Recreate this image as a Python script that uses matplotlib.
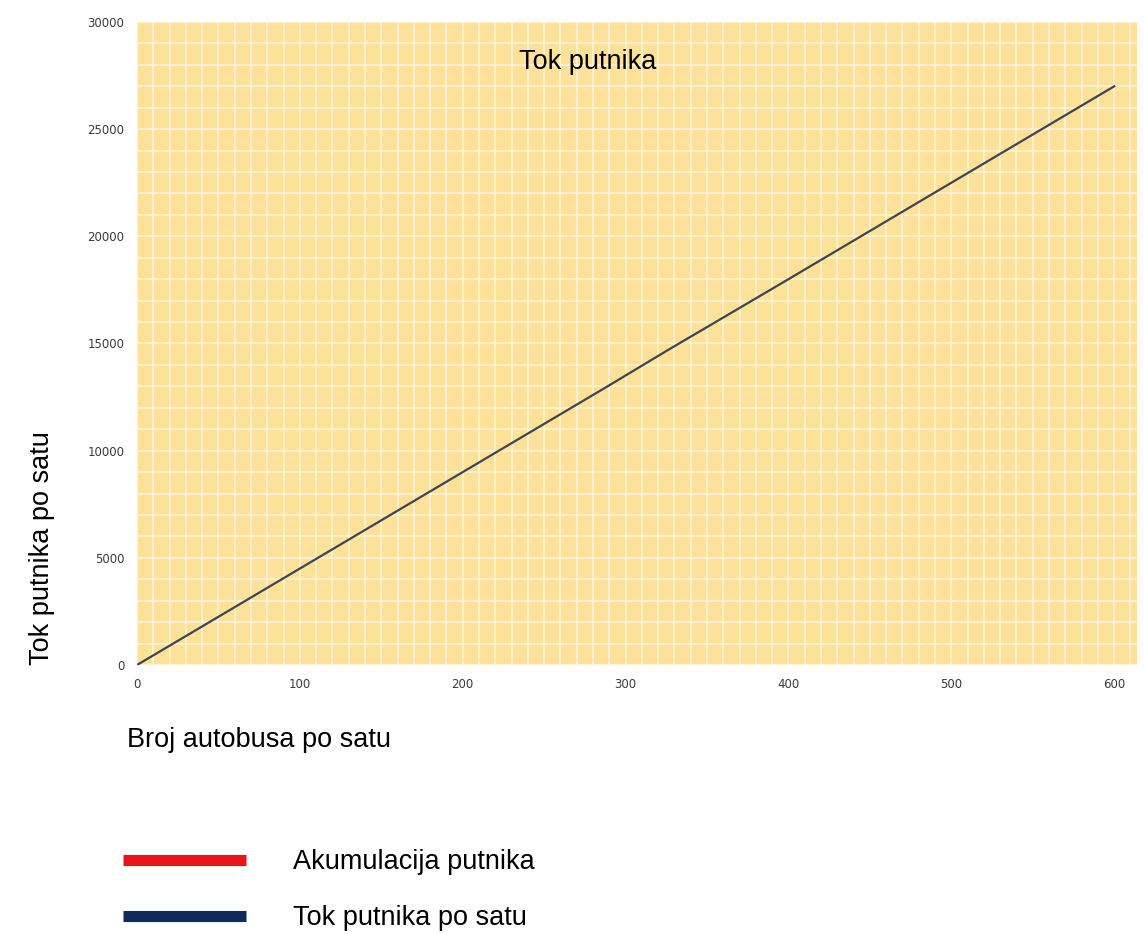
import matplotlib.pyplot as plt
from matplotlib.lines import Line2D
from matplotlib.ticker import MultipleLocator

# broj autobusa po satu -> tok putnika po satu
buses = [0, 100, 200, 290, 325, 400, 500, 600]
flow = [0, 4500, 9000, 13050, 14650, 18000, 22500, 27000]

x_ticks = [0, 100, 200, 300, 400, 500, 600]
y_ticks = [0, 5000, 10000, 15000, 20000, 25000, 30000]

legend_labels = ["Akumulacija putnika", "Tok putnika po satu"]
legend_colors = ["#e8141a", "#0f2a5c"]

plt.rcParams['font.family'] = ['Liberation Sans', 'DejaVu Sans']

fig = plt.figure(figsize=(11.45, 9.34), dpi=100)
ax = fig.add_axes([137/1145, 1 - 665/934, 1000/1145, 643/934])
ax.set_facecolor("#fde199")

ax.plot(buses, flow, color="#3d4550", lw=1.6)

ax.set_xlim(0, 614)
ax.set_ylim(0, 30000)
ax.set_xticks(x_ticks)
ax.set_yticks(y_ticks)
ax.xaxis.set_minor_locator(MultipleLocator(10))
ax.yaxis.set_minor_locator(MultipleLocator(1000))
ax.grid(which="both", color="#fff4d6", lw=1.2)
ax.set_axisbelow(True)
ax.tick_params(which="both", length=0, colors="#3a3a3a", pad=9)
for lab in ax.get_xticklabels() + ax.get_yticklabels():
    lab.set_family("DejaVu Sans")
    lab.set_fontsize(8.5)
for s in ax.spines.values():
    s.set_visible(False)

ax.text(0.451, 0.938, "Tok putnika", transform=ax.transAxes, ha="center", va="center",
        fontsize=19.5)

fig.text(42/1145, 1 - 548/934, "Tok putnika po satu", rotation=90, ha="center",
         va="center", fontsize=19.5)
fig.text(127/1145, 1 - 740/934, "Broj autobusa po satu", ha="left", va="center",
         fontsize=19.5)

handles = [Line2D([0], [0], color=c, lw=8, solid_capstyle="butt") for c in legend_colors]
fig.legend(handles, legend_labels, loc="upper left",
           bbox_to_anchor=(123/1145, 1 - 849/934), frameon=False, fontsize=19.5,
           handlelength=4.54, labelspacing=1.12, handletextpad=1.73, borderpad=0,
           borderaxespad=0)

plt.savefig("out.png", dpi=100)
